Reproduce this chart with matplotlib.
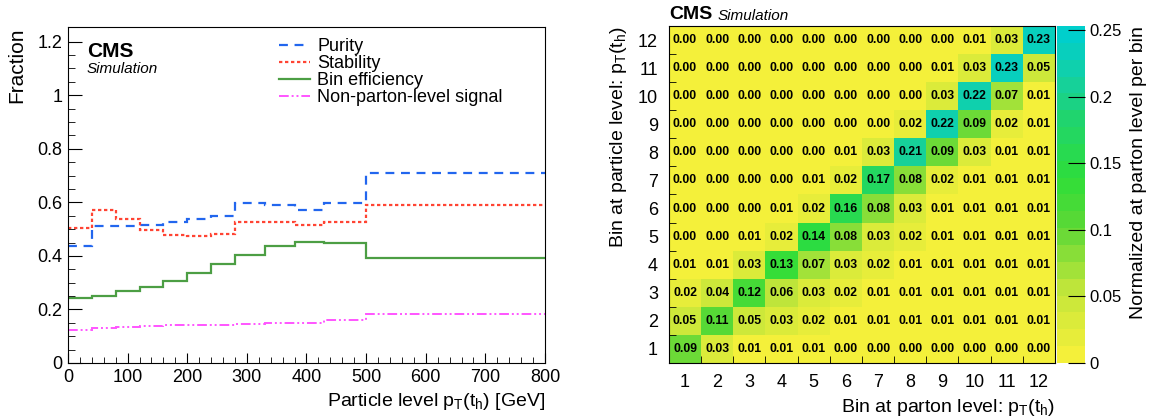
import numpy as np
import matplotlib
matplotlib.use("Agg")
import matplotlib.pyplot as plt
from matplotlib.colors import LinearSegmentedColormap, ListedColormap, Normalize

plt.rcParams["font.family"] = ["Liberation Sans", "DejaVu Sans"]
plt.rcParams["mathtext.default"] = "regular"

# pT(t_h) binning at particle level [GeV]
edges = [0, 40, 80, 120, 160, 200, 240, 280, 330, 380, 430, 500, 800]
purity = [0.438, 0.513, 0.513, 0.516, 0.526, 0.538, 0.548, 0.597, 0.592, 0.570, 0.597, 0.711]
stability = [0.505, 0.572, 0.538, 0.497, 0.478, 0.476, 0.480, 0.526, 0.528, 0.515, 0.527, 0.590]
bin_eff = [0.243, 0.252, 0.268, 0.285, 0.307, 0.337, 0.369, 0.404, 0.437, 0.453, 0.448, 0.394]
non_parton = [0.123, 0.129, 0.136, 0.139, 0.141, 0.142, 0.143, 0.144, 0.148, 0.151, 0.160, 0.183]

# migration matrix, rows = particle-level bin 1..12, columns = parton-level bin 1..12
bins = list(range(1, 13))
migration = [
    [0.09, 0.03, 0.01, 0.01, 0.01, 0.00, 0.00, 0.00, 0.00, 0.00, 0.00, 0.00],
    [0.05, 0.11, 0.05, 0.03, 0.02, 0.01, 0.01, 0.01, 0.01, 0.01, 0.01, 0.01],
    [0.02, 0.04, 0.12, 0.06, 0.03, 0.02, 0.01, 0.01, 0.01, 0.01, 0.01, 0.01],
    [0.01, 0.01, 0.03, 0.13, 0.07, 0.03, 0.02, 0.01, 0.01, 0.01, 0.01, 0.01],
    [0.00, 0.00, 0.01, 0.02, 0.14, 0.08, 0.03, 0.02, 0.01, 0.01, 0.01, 0.01],
    [0.00, 0.00, 0.00, 0.01, 0.02, 0.16, 0.08, 0.03, 0.01, 0.01, 0.01, 0.01],
    [0.00, 0.00, 0.00, 0.00, 0.01, 0.02, 0.17, 0.08, 0.02, 0.01, 0.01, 0.01],
    [0.00, 0.00, 0.00, 0.00, 0.00, 0.01, 0.03, 0.21, 0.09, 0.03, 0.01, 0.01],
    [0.00, 0.00, 0.00, 0.00, 0.00, 0.00, 0.00, 0.02, 0.22, 0.09, 0.02, 0.01],
    [0.00, 0.00, 0.00, 0.00, 0.00, 0.00, 0.00, 0.00, 0.03, 0.22, 0.07, 0.01],
    [0.00, 0.00, 0.00, 0.00, 0.00, 0.00, 0.00, 0.00, 0.01, 0.03, 0.23, 0.05],
    [0.00, 0.00, 0.00, 0.00, 0.00, 0.00, 0.00, 0.00, 0.00, 0.01, 0.03, 0.23],
]

fig = plt.figure(figsize=(11.5, 4.18), dpi=100)

# ---- left: purity / stability / efficiency
ax = fig.add_axes([0.0591, 0.1316, 0.4148, 0.8038])
ax.stairs(purity, edges, baseline=None, color="#2266ee", lw=1.6, ls=(0, (4, 3)), label="Purity")
ax.stairs(stability, edges, baseline=None, color="#ff4433", lw=1.6, ls=(0, (1.5, 1.2)), label="Stability")
ax.stairs(bin_eff, edges, baseline=None, color="#4c9e44", lw=1.6, ls="-", label="Bin efficiency")
ax.stairs(non_parton, edges, baseline=None, color="#ff55ff", lw=1.4,
          ls=(0, (5, 1.5, 1, 1.5, 1, 1.5)), label="Non-parton-level signal")
ax.set_xlim(0, 800)
ax.set_ylim(0, 1.255)
ax.set_xticks(np.arange(0, 801, 100))
ax.set_xticks(np.arange(0, 801, 20), minor=True)
ax.set_yticks([0, 0.2, 0.4, 0.6, 0.8, 1, 1.2])
ax.set_yticklabels(["0", "0.2", "0.4", "0.6", "0.8", "1", "1.2"])
ax.set_yticks(np.arange(0, 1.25, 0.05), minor=True)
ax.tick_params(which="both", direction="in", top=False, right=False, labelsize=13, pad=4)
ax.tick_params(axis="y", which="major", length=10)
ax.tick_params(axis="y", which="minor", length=5)
ax.tick_params(axis="x", which="major", length=7)
ax.tick_params(axis="x", which="minor", length=4)
ax.set_ylabel("Fraction", fontsize=15, loc="top", labelpad=8)
ax.set_xlabel(r"Particle level p$_{T}$(t$_{h}$) [GeV]", fontsize=14, loc="right", labelpad=4)
ax.text(0.04, 0.955, "CMS", transform=ax.transAxes, fontsize=15, fontweight="bold", va="top")
ax.text(0.04, 0.895, "Simulation", transform=ax.transAxes, fontsize=11, style="italic", va="top")
ax.legend(loc="upper left", bbox_to_anchor=(0.42, 1.0), frameon=False, fontsize=13,
          handlelength=1.7, labelspacing=0.0, handletextpad=0.4, borderaxespad=0.2)

# ---- right: migration matrix
colors = LinearSegmentedColormap.from_list(
    "ygc",
    [(0.0, "#f4f03a"), (0.2, "#c2e63a"), (0.4, "#5cd836"), (0.55, "#2ede38"),
     (0.75, "#1fd372"), (0.88, "#12d0a8"), (1.0, "#00cfcc")])
cmap = ListedColormap(colors(np.linspace(0, 1, 20)))
norm = Normalize(0, 0.253)

ax2 = fig.add_axes([0.5817, 0.1316, 0.3357, 0.8062])
cell_edges = np.arange(0.5, 13, 1)
mesh = ax2.pcolormesh(cell_edges, cell_edges, np.array(migration), cmap=cmap, norm=norm)
for i, row in enumerate(migration):
    for j, v in enumerate(row):
        ax2.text(bins[j], bins[i], f"{v:.2f}", ha="center", va="center",
                 fontsize=8.8, fontweight="bold", color="black")
ax2.set_xlim(0.5, 12.5)
ax2.set_ylim(0.5, 12.5)
ax2.set_xticks(bins)
ax2.set_yticks(bins)
ax2.set_xticks(np.arange(1.5, 12.5, 1), minor=True)
ax2.set_yticks(np.arange(1.5, 12.5, 1), minor=True)
ax2.tick_params(which="major", length=0, labelsize=13, pad=8)
ax2.tick_params(which="minor", direction="in", length=5, top=False, right=False)
ax2.set_xlabel(r"Bin at parton level: p$_{T}$(t$_{h}$)", fontsize=14, loc="right", labelpad=4)
ax2.set_ylabel(r"Bin at particle level: p$_{T}$(t$_{h}$)", fontsize=14, loc="top", labelpad=6)
ax2.text(0.0, 1.01, "CMS", transform=ax2.transAxes, fontsize=14, fontweight="bold", va="bottom")
ax2.text(0.125, 1.01, "Simulation", transform=ax2.transAxes, fontsize=11, style="italic", va="bottom")

cax = fig.add_axes([0.9191, 0.1316, 0.0244, 0.8062])
cb = fig.colorbar(mesh, cax=cax, ticks=[0, 0.05, 0.1, 0.15, 0.2, 0.25])
cb.ax.set_yticklabels(["0", "0.05", "0.1", "0.15", "0.2", "0.25"])
cb.outline.set_visible(False)
cb.ax.tick_params(direction="in", length=12, labelsize=12, pad=3)
cb.set_label("Normalized at parton level per bin", fontsize=14, loc="top", labelpad=6)

fig.savefig("out.png", dpi=100)
